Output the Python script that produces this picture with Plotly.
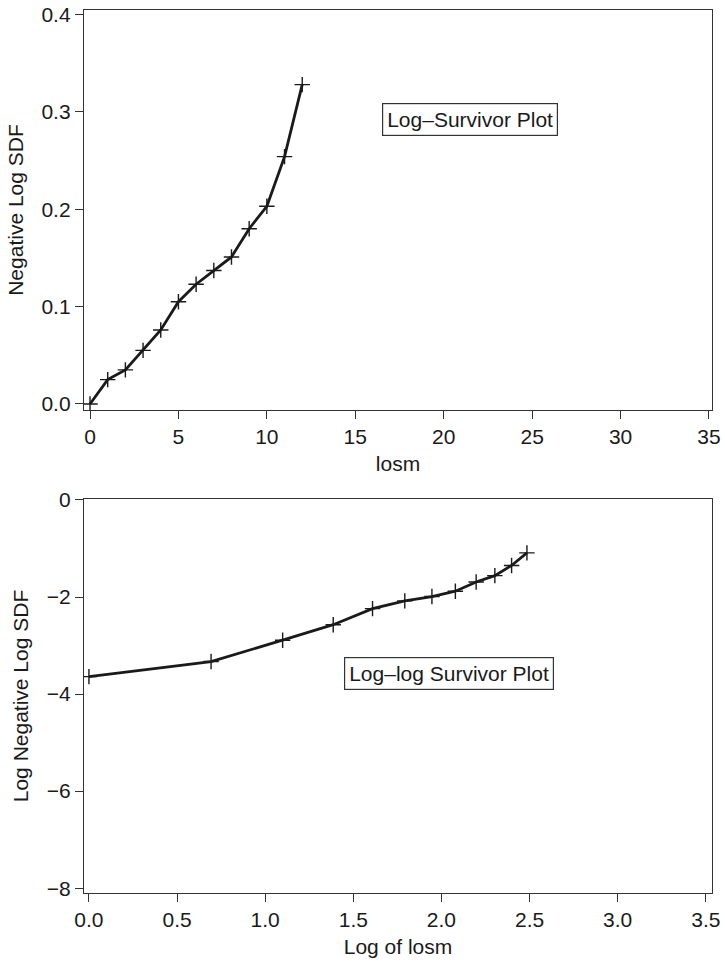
import plotly.graph_objects as go

# Log-survivor data: negative log of the survival distribution function
losm = [0, 1, 2, 3, 4, 5, 6, 7, 8, 9, 10, 11, 12]
neg_log_sdf = [0.0, 0.025, 0.035, 0.055, 0.076, 0.105, 0.123, 0.137, 0.151, 0.180, 0.203, 0.254, 0.328]

# Log-log survivor data
log_losm = [0.0, 0.693, 1.099, 1.386, 1.609, 1.792, 1.946, 2.079, 2.197, 2.303, 2.398, 2.485]
log_neg_log_sdf = [-3.64, -3.33, -2.89, -2.57, -2.24, -2.08, -1.99, -1.88, -1.69, -1.56, -1.35, -1.09]

top_xticks = [0, 5, 10, 15, 20, 25, 30, 35]
top_yticks = [0.0, 0.1, 0.2, 0.3, 0.4]
bot_xticks = [0.0, 0.5, 1.0, 1.5, 2.0, 2.5, 3.0, 3.5]
bot_yticks = [0, -2, -4, -6, -8]

FONT = "Liberation Sans, Arial, sans-serif"
INK = "#1a1a1a"

line_style = dict(color=INK, width=2.8)
marker_style = dict(symbol="cross-thin", size=11, line=dict(color=INK, width=1.4))

fig = go.Figure()
fig.add_trace(go.Scatter(x=losm, y=neg_log_sdf, mode="lines+markers",
                         line=line_style, marker=marker_style,
                         xaxis="x", yaxis="y", showlegend=False))
fig.add_trace(go.Scatter(x=log_losm, y=log_neg_log_sdf, mode="lines+markers",
                         line=line_style, marker=marker_style,
                         xaxis="x2", yaxis="y2", showlegend=False))

axis_common = dict(showline=True, mirror=True, linecolor="#333333", linewidth=1.4,
                   ticks="outside", ticklen=8, tickwidth=1.2, tickcolor="#333333",
                   showgrid=False, zeroline=False, automargin=False,
                   tickfont=dict(family=FONT, size=21, color=INK),
                   title_font=dict(family=FONT, size=21, color=INK))

fig.update_layout(
    width=725, height=967,
    margin=dict(l=84, r=13, t=10, b=74),
    paper_bgcolor="white", plot_bgcolor="white",
    font=dict(family=FONT, size=21, color=INK),
    xaxis=dict(domain=[0, 1], anchor="y", range=[-0.34, 35.17],
               tickvals=top_xticks, ticktext=[str(v) for v in top_xticks],
               title=dict(text="losm", standoff=8), **axis_common),
    yaxis=dict(domain=[0.547, 1], anchor="x", range=[-0.0062, 0.4046],
               tickvals=top_yticks, ticktext=[f"{v:.1f}" for v in top_yticks],
               title=dict(text="Negative Log SDF", standoff=12), **axis_common),
    xaxis2=dict(domain=[0, 1], anchor="y2", range=[-0.028, 3.535],
                tickvals=bot_xticks, ticktext=[f"{v:.1f}" for v in bot_xticks],
                title=dict(text="Log of losm", standoff=8), **axis_common),
    yaxis2=dict(domain=[0, 0.4462], anchor="x2", range=[-8.1, 0.02],
                tickvals=bot_yticks, ticktext=["0", "\u22122", "\u22124", "\u22126", "\u22128"],
                title=dict(text="Log Negative Log SDF", standoff=12), **axis_common),
    annotations=[
        dict(x=21.5, y=0.292, xref="x", yref="y", text="Log\u2013Survivor Plot",
             showarrow=False, font=dict(family=FONT, size=21, color=INK),
             bordercolor="#333333", borderwidth=1.2, borderpad=4, bgcolor="white"),
        dict(x=2.044, y=-3.57, xref="x2", yref="y2", text="Log\u2013log Survivor Plot",
             showarrow=False, font=dict(family=FONT, size=21, color=INK),
             bordercolor="#333333", borderwidth=1.2, borderpad=4, bgcolor="white"),
    ],
)

fig.write_html("out.html")
